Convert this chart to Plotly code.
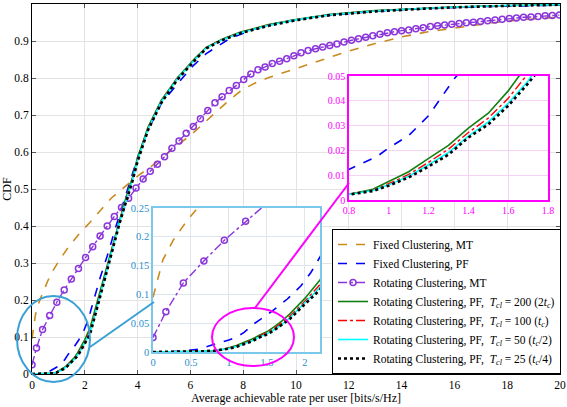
import plotly.graph_objects as go

# ---------------- data ----------------
fmt_x = [0, 0.13, 0.27, 0.46, 0.6, 0.8, 1.06, 1.4, 1.8, 2.2, 2.6, 3.0, 3.5, 4.0, 4.5, 5.0, 5.5,
         6.0, 6.5, 7.0, 7.5, 8.0, 8.5, 9.0, 10.0, 11.0, 12.0, 13.0, 14.0, 15.0, 16.0, 17.0, 18.0, 19.0, 20.0]
fmt_y = [0.095, 0.16, 0.195, 0.23, 0.252, 0.28, 0.31, 0.345, 0.38, 0.41, 0.443, 0.475, 0.505, 0.535,
         0.56, 0.59, 0.618, 0.645, 0.677, 0.71, 0.742, 0.77, 0.788, 0.802, 0.826, 0.85, 0.873, 0.893,
         0.911, 0.925, 0.936, 0.945, 0.954, 0.96, 0.965]

fpf_x = [0, 0.2, 0.4, 0.6, 0.8, 0.94, 1.0, 1.1, 1.2, 1.27, 1.33, 1.42, 1.59, 1.77, 1.95, 2.08, 2.2,
         2.58, 2.9, 3.14, 3.45, 3.6, 4.0, 4.4, 4.9, 5.7, 6.06, 6.6, 7.5, 8.4, 9.5, 11.0, 13.0, 15.0, 17.0, 20.0]
fpf_y = [0, 0.0003, 0.0015, 0.005, 0.0124, 0.0175, 0.021, 0.026, 0.034, 0.042, 0.049, 0.057, 0.073,
         0.092, 0.115, 0.138, 0.165, 0.26, 0.33, 0.39, 0.46, 0.49, 0.585, 0.66, 0.732, 0.80, 0.83,
         0.866, 0.907, 0.932, 0.952, 0.968, 0.98, 0.988, 0.993, 0.997]

rmt_x = [0, 0.17, 0.4, 0.67, 0.94, 1.22, 1.49, 1.76, 2.03, 2.30, 2.58, 2.85, 3.12, 3.39, 3.66, 3.94,
         4.21, 4.48, 4.75, 5.02, 5.30, 5.57, 5.84, 6.11, 6.38, 6.66, 6.93, 7.20, 7.47, 7.74, 8.02,
         8.29, 8.56, 8.83, 9.10, 9.38, 9.65, 9.92, 10.19, 10.46, 10.74, 11.01, 11.28, 11.55, 11.82,
         12.10, 12.37, 12.64, 12.91, 13.18, 13.46, 13.73, 14.00, 14.27, 14.54, 14.82, 15.09, 15.36,
         15.63, 15.90, 16.18, 16.45, 16.72, 16.99, 17.26, 17.54, 17.81, 18.08, 18.35, 18.62, 18.90,
         19.17, 19.44, 19.71, 19.98]
rmt_y = [0.025, 0.07, 0.12, 0.158, 0.194, 0.227, 0.257, 0.285, 0.315, 0.344, 0.373, 0.400, 0.426,
         0.450, 0.475, 0.503, 0.527, 0.548, 0.567, 0.587, 0.610, 0.630, 0.651, 0.669, 0.690, 0.712,
         0.733, 0.749, 0.766, 0.780, 0.796, 0.811, 0.822, 0.830, 0.839, 0.845, 0.852, 0.860, 0.868,
         0.874, 0.879, 0.884, 0.888, 0.892, 0.897, 0.902, 0.906, 0.910, 0.914, 0.918, 0.922, 0.925,
         0.928, 0.930, 0.933, 0.936, 0.939, 0.941, 0.943, 0.945, 0.947, 0.949, 0.951, 0.953, 0.955,
         0.957, 0.959, 0.961, 0.962, 0.964, 0.965, 0.966, 0.968, 0.969, 0.970]

rpf_x = [0, 0.3, 0.5, 0.65, 0.8, 0.92, 1.0, 1.1, 1.2, 1.3, 1.4, 1.5, 1.6, 1.7, 1.8, 2.0, 2.2, 2.6,
         3.0, 3.3, 3.5, 3.8, 4.0, 4.4, 4.9, 5.5, 6.2, 6.6, 7.2, 7.9, 9.0, 10.0, 11.3, 13.0, 14.5,
         16.0, 18.0, 20.0]
rpf200_y = [0, 0.0002, 0.0006, 0.0013, 0.0023, 0.0043, 0.0074, 0.0114, 0.0168, 0.022, 0.029, 0.035,
            0.044, 0.054, 0.066, 0.093, 0.125, 0.228, 0.337, 0.415, 0.462, 0.53, 0.585, 0.668, 0.74,
            0.80, 0.855, 0.883, 0.905, 0.924, 0.945, 0.958, 0.972, 0.982, 0.988, 0.992, 0.996, 0.998]
rpf100_y = [0, 0.0002, 0.0006, 0.0013, 0.0022, 0.0040, 0.0066, 0.0103, 0.0152, 0.0205, 0.0272, 0.033,
            0.041, 0.051, 0.062, 0.088, 0.117, 0.222, 0.332, 0.41, 0.457, 0.526, 0.581, 0.665, 0.738,
            0.798, 0.853, 0.882, 0.904, 0.923, 0.944, 0.957, 0.971, 0.981, 0.987, 0.992, 0.996, 0.998]
rpf50_y = [0, 0.0002, 0.0006, 0.0013, 0.0022, 0.0038, 0.0061, 0.0096, 0.0142, 0.0192, 0.0258, 0.0315,
           0.039, 0.048, 0.059, 0.085, 0.112, 0.218, 0.328, 0.406, 0.454, 0.523, 0.578, 0.663, 0.736,
           0.797, 0.852, 0.881, 0.903, 0.922, 0.943, 0.957, 0.971, 0.981, 0.987, 0.992, 0.996, 0.998]
rpf25_y = [0, 0.0002, 0.0006, 0.0013, 0.0022, 0.0036, 0.0058, 0.0091, 0.0135, 0.0183, 0.0252, 0.0305,
           0.038, 0.047, 0.057, 0.083, 0.108, 0.214, 0.324, 0.403, 0.451, 0.52, 0.575, 0.66, 0.733,
           0.795, 0.85, 0.88, 0.902, 0.921, 0.942, 0.956, 0.97, 0.98, 0.986, 0.991, 0.995, 0.998]

names = [
    "Fixed Clustering, MT",
    "Fixed Clustering, PF",
    "Rotating Clustering, MT",
    "Rotating Clustering, PF,  <i>T</i><sub><i>cl</i></sub> = 200 (2<i>t</i><sub><i>c</i></sub>)",
    "Rotating Clustering, PF,  <i>T</i><sub><i>cl</i></sub> = 100 (<i>t</i><sub><i>c</i></sub>)",
    "Rotating Clustering, PF,  <i>T</i><sub><i>cl</i></sub> = 50 (<i>t</i><sub><i>c</i></sub>/2)",
    "Rotating Clustering, PF,  <i>T</i><sub><i>cl</i></sub> = 25 (<i>t</i><sub><i>c</i></sub>/4)",
]
main_xticks = [0, 2, 4, 6, 8, 10, 12, 14, 16, 18, 20]
main_yticks = [0, 0.1, 0.2, 0.3, 0.4, 0.5, 0.6, 0.7, 0.8, 0.9, 1]

# ---------------- styling ----------------
W, H = 567, 407
FONT = "Liberation Serif"
ORANGE = "#C98A1E"
BLUE = "#0000FF"
PURPLE = "#8B35DB"
GREEN = "#118011"
RED = "#FF0000"
CYAN = "#00FFFF"
BLACK = "#000000"
INSET1 = "#3AA0D5"
INSET1_TXT = "#2A90CC"
MAG = "#FF00FF"

series = [
    (fmt_x, fmt_y, dict(color=ORANGE, width=1.6, dash="dash"), None),
    (fpf_x, fpf_y, dict(color=BLUE, width=1.6, dash="dash"), None),
    (rmt_x, rmt_y, dict(color=PURPLE, width=1.4, dash="dashdot"),
     dict(symbol="circle-open", size=6, color=PURPLE, line=dict(width=1.5))),
    (rpf_x, rpf200_y, dict(color=GREEN, width=1.6), None),
    (rpf_x, rpf100_y, dict(color=RED, width=1.4, dash="dashdot"), None),
    (rpf_x, rpf50_y, dict(color=CYAN, width=1.6), None),
    (rpf_x, rpf25_y, dict(color=BLACK, width=2.6, dash="dot"), None),
]

fig = go.Figure()
for ax in ["", "2", "3"]:
    for i, (xs, ys, line, marker) in enumerate(series):
        fig.add_trace(go.Scatter(
            x=xs, y=ys, name=names[i], line=line,
            mode="lines+markers" if marker else "lines",
            marker=marker, showlegend=(ax == ""),
            xaxis="x" + ax, yaxis="y" + ax, hoverinfo="skip"))

def dx(p): return p / W
def dy(p): return 1 - p / H

fig.update_layout(
    width=W, height=H, margin=dict(l=0, r=0, t=0, b=0, autoexpand=False),
    paper_bgcolor="white", plot_bgcolor="white",
    font=dict(family=FONT, size=11.5, color="black"),
    showlegend=True,
    xaxis=dict(domain=[dx(32), dx(560)], range=[0, 20], tickvals=main_xticks,
               showgrid=True, gridcolor="#E3E3E3", gridwidth=1, zeroline=False,
               showline=True, linecolor="black", linewidth=1, mirror="ticks",
               ticks="inside", ticklen=4, tickcolor="#555", automargin=False,
               title=dict(text="Average achievable rate per user [bits/s/Hz]", standoff=2,
                          font=dict(size=12))),
    yaxis=dict(domain=[dy(374), dy(4)], range=[0, 1], tickvals=main_yticks,
               showgrid=True, gridcolor="#E3E3E3", gridwidth=1, zeroline=False,
               showline=True, linecolor="black", linewidth=1, mirror="ticks",
               ticks="inside", ticklen=4, tickcolor="#555", automargin=False,
               title=dict(text="CDF", standoff=4, font=dict(size=12))),
    xaxis2=dict(domain=[dx(153), dx(320)], range=[0, 2.2], anchor="y2",
                tickvals=[0, 0.5, 1, 1.5, 2], showgrid=True, gridcolor="#DCE6EC",
                zeroline=False, showline=True, linecolor="#7CC8EA", linewidth=1.5, mirror=True,
                ticks="", tickfont=dict(color=INSET1_TXT, size=10.5), automargin=False),
    yaxis2=dict(domain=[dy(352), dy(208)], range=[0, 0.25], anchor="x2",
                tickvals=[0, 0.05, 0.1, 0.15, 0.2, 0.25], showgrid=True, gridcolor="#DCE6EC",
                zeroline=False, showline=True, linecolor="#7CC8EA", linewidth=1.5, mirror=True,
                ticks="", tickfont=dict(color=INSET1_TXT, size=10.5), automargin=False),
    xaxis3=dict(domain=[dx(349), dx(548)], range=[0.8, 1.8], anchor="y3",
                tickvals=[0.8, 1, 1.2, 1.4, 1.6, 1.8], showgrid=True, gridcolor="#F7D2F7",
                zeroline=False, showline=True, linecolor=MAG, linewidth=1.5, mirror=True,
                ticks="", tickfont=dict(color=MAG, size=10), automargin=False,
                tickprefix="<b>", ticksuffix="</b>"),
    yaxis3=dict(domain=[dy(200), dy(76)], range=[0, 0.05], anchor="x3",
                tickvals=[0, 0.01, 0.02, 0.03, 0.04, 0.05], showgrid=True, gridcolor="#F7D2F7",
                zeroline=False, showline=True, linecolor=MAG, linewidth=1.5, mirror=True,
                ticks="", tickfont=dict(color=MAG, size=10), automargin=False,
                tickprefix="<b>", ticksuffix="</b>"),
    legend=dict(x=dx(561), y=dy(229), xanchor="right", yanchor="top",
                bgcolor="white", bordercolor="black", borderwidth=1,
                font=dict(family=FONT, size=11.5), itemwidth=30, tracegroupgap=0),
)

shapes = [
    # cyan zoom ellipse + connector
    dict(type="circle", xref="paper", yref="paper", x0=dx(17), x1=dx(90), y0=dy(382), y1=dy(296),
         line=dict(color=INSET1, width=2), layer="above"),
    dict(type="line", xref="paper", yref="paper", x0=dx(90), y0=dy(347), x1=dx(154), y1=dy(302),
         line=dict(color=INSET1, width=2), layer="above"),
    # magenta zoom ellipse + connector
    dict(type="circle", xref="paper", yref="paper", x0=dx(212), x1=dx(294), y0=dy(366), y1=dy(308),
         line=dict(color=MAG, width=2), layer="above"),
    dict(type="line", xref="paper", yref="paper", x0=dx(255), y0=dy(308), x1=dx(349), y1=dy(183),
         line=dict(color=MAG, width=2), layer="above"),
]
fig.update_layout(shapes=shapes)

fig.write_html("out.html", config={"displayModeBar": False},
               post_script="document.body.style.margin='0';document.body.style.padding='0';")
